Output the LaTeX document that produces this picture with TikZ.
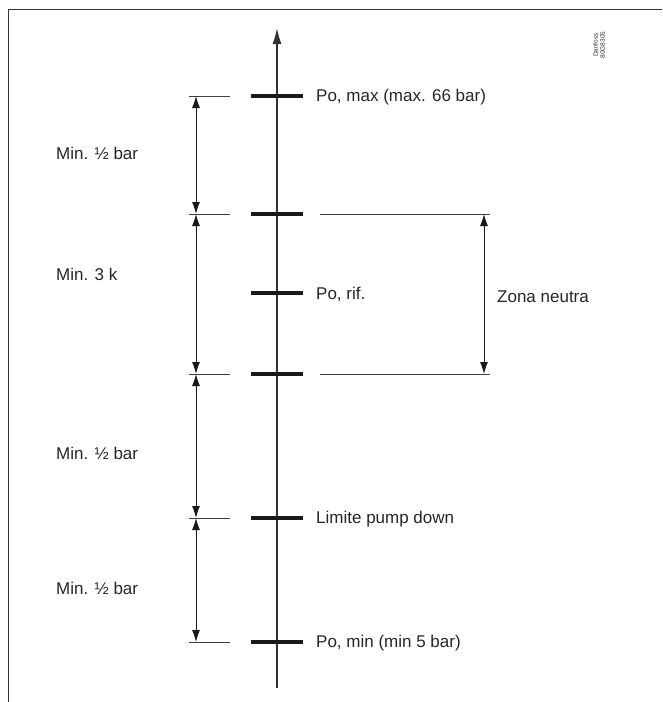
\documentclass[tikz,border=0pt]{standalone}
\usepackage{fontspec}
\setmainfont{Liberation Sans}
\usetikzlibrary{arrows.meta}
\begin{document}
\begin{tikzpicture}[x=1pt,y=-1pt,
  thickbar/.style={line width=4.6pt, draw=black!90},
  thinline/.style={line width=0.8pt, draw=black!75},
  dimarrow/.style={line width=1pt, draw=black!90, {Latex[length=12pt,width=8pt]}-{Latex[length=12pt,width=8pt]}},
  lbl/.style={font=\fontsize{17}{19}\selectfont, anchor=west, inner sep=0pt, text=black!85},
  every node/.style={inner sep=0pt}]
\useasboundingbox (0,0) rectangle (662,702);
% frame (top and left)
\draw[line width=1.3pt, black!80] (662,9.5) -- (8.5,9.5) -- (8.5,702);
% main axis
\coordinate (axbot) at (277,688);
\coordinate (axtop) at (277,28);
\draw[line width=1.3pt, black!80, -{Latex[length=16pt,width=9pt]}] (axbot) -- (axtop);
% levels
\foreach \n/\y in {a/96,b/214,c/293,d/374,e/518,f/642} {
  \coordinate (t\n w) at (251,\y);
  \coordinate (t\n e) at (303,\y);
  \draw[thickbar] (t\n w) -- (t\n e);
}
\foreach \n/\y in {a/96,b/214,d/374,e/518,f/642} {
  \coordinate (l\n w) at (189,\y);
  \coordinate (l\n e) at (230,\y);
  \coordinate (d\n) at (196,\y);
  \draw[thinline] (l\n w) -- (l\n e);
}
\foreach \n/\y in {b/214,d/374} {
  \coordinate (r\n w) at (320,\y);
  \coordinate (r\n e) at (490,\y);
  \coordinate (rd\n) at (484,\y);
  \draw[thinline] (r\n w) -- (r\n e);
}
% dimension arrows
\draw[dimarrow] (da) -- (db);
\draw[dimarrow] (db) -- (dd);
\draw[dimarrow] (dd) -- (de);
\draw[dimarrow] (de) -- (df);
\draw[dimarrow] (rdb) -- (rdd);
% labels
\node[lbl] (la) at (316,97) {Po, max (max. 66 bar)};
\node[lbl] (lc) at (316,294) {Po, rif.};
\node[lbl] (le) at (316,519) {Limite pump down};
\node[lbl] (lf) at (316,643) {Po, min (min 5 bar)};
\node[lbl] (zn) at (497,297) {Zona neutra};
\node[lbl] (m1) at (56,153) {Min. ½ bar};
\node[lbl] (m2) at (56,274) {Min. 3 k};
\node[lbl] (m3) at (56,453) {Min. ½ bar};
\node[lbl] (m4) at (56,588) {Min. ½ bar};
% code
\node[rotate=90, font=\fontsize{6.5}{7}\selectfont, align=center, text=black!80] (code) at (599,45) {Danfoss\\80G8305};
\end{tikzpicture}
\end{document}
